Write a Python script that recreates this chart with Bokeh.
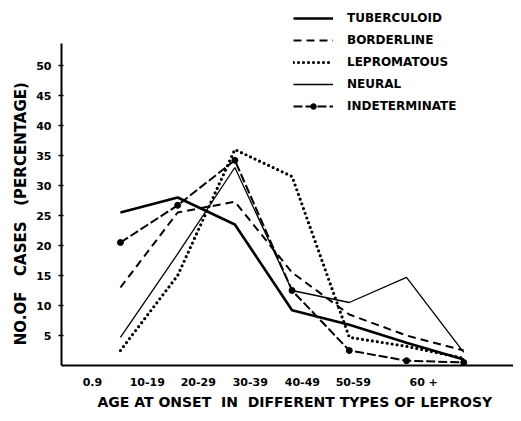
import numpy as np
from bokeh.plotting import figure
from bokeh.models import Legend, LegendItem, FixedTicker, Range1d
from bokeh.embed import file_html
from bokeh.resources import INLINE

# ---- data ----
age_groups = ["0.9", "10-19", "20-29", "30-39", "40-49", "50-59", "60 +"]
tick_positions = [-0.49, 0.47, 1.36, 2.27, 3.18, 4.07, 5.30]
group_index = [0, 1, 2, 3, 4, 5, 6]
tuberculoid = [25.5, 28.0, 23.5, 9.2, 6.8, 3.8, 1.0]
borderline = [13.0, 25.5, 27.3, 15.5, 8.5, 5.0, 2.5]
lepromatous = [2.5, 15.0, 36.0, 31.5, 4.7, 3.2, 1.2]
neural = [4.7, 18.6, 33.0, 12.5, 10.5, 14.7, 2.2]
indeterminate = [20.5, 26.7, 34.2, 12.5, 2.5, 0.8, 0.5]
y_ticks = [5, 10, 15, 20, 25, 30, 35, 40, 45, 50]

FONT = "DejaVu Sans"
NB = "\u00a0"

p = figure(width=513, height=413, output_backend="svg", toolbar_location=None,
           x_range=Range1d(-1.03, 6.87), y_range=Range1d(0, 60.17),
           min_border_left=61, min_border_right=0, min_border_top=4,
           min_border_bottom=48)
p.outline_line_color = None
p.xgrid.grid_line_color = None
p.ygrid.grid_line_color = None
p.background_fill_color = "white"

# y axis
p.yaxis.bounds = (0, 53.67)
p.yaxis.ticker = FixedTicker(ticks=y_ticks)
p.yaxis.axis_line_width = 2
p.yaxis.major_tick_in = 2
p.yaxis.major_tick_out = 3
p.yaxis.major_tick_line_width = 1.5
p.yaxis.minor_tick_line_color = None
p.yaxis.major_label_text_font = FONT
p.yaxis.major_label_text_font_style = "bold"
p.yaxis.major_label_text_font_size = "11px"
p.yaxis.major_label_text_color = "black"
p.yaxis.major_label_standoff = 7
p.yaxis.axis_label = "NO.OF" + NB * 3 + "CASES" + NB * 3 + "(PERCENTAGE)" + NB * 11
p.yaxis.axis_label_text_font = FONT
p.yaxis.axis_label_text_font_style = "bold"
p.yaxis.axis_label_text_font_size = "15px"
p.yaxis.axis_label_text_color = "black"
p.yaxis.axis_label_standoff = 3

# x axis
p.xaxis.ticker = FixedTicker(ticks=tick_positions)
p.xaxis.major_label_overrides = {t: lab for t, lab in zip(tick_positions, age_groups)}
p.xaxis.axis_line_width = 2
p.xaxis.major_tick_in = 0
p.xaxis.major_tick_out = 0
p.xaxis.minor_tick_line_color = None
p.xaxis.major_label_text_font = FONT
p.xaxis.major_label_text_font_style = "bold"
p.xaxis.major_label_text_font_size = "11px"
p.xaxis.major_label_text_color = "black"
p.xaxis.major_label_standoff = 10
p.xaxis.axis_label = (NB * 3 + "AGE AT ONSET" + NB * 2 + "IN" + NB * 2 +
                      "DIFFERENT TYPES OF LEPROSY")
p.xaxis.axis_label_text_font = FONT
p.xaxis.axis_label_text_font_style = "bold"
p.xaxis.axis_label_text_font_size = "14px"
p.xaxis.axis_label_text_color = "black"
p.xaxis.axis_label_standoff = 2

r_tub = p.line(group_index, tuberculoid, line_color="black", line_width=2.6)
r_bor = p.line(group_index, borderline, line_color="black", line_width=2,
               line_dash="8 5")
r_lep = p.line(group_index, lepromatous, line_color="black", line_width=3.2,
               line_dash="0 5", line_cap="round")
r_neu = p.line(group_index, neural, line_color="black", line_width=1.3)
r_ind = p.line(group_index, indeterminate, line_color="black", line_width=2,
               line_dash="9 3")
r_ind_m = p.scatter(group_index, indeterminate, marker="circle", size=6,
                    fill_color="black", line_color="black")

legend = Legend(items=[
    LegendItem(label="TUBERCULOID", renderers=[r_tub]),
    LegendItem(label="BORDERLINE", renderers=[r_bor]),
    LegendItem(label="LEPROMATOUS", renderers=[r_lep]),
    LegendItem(label="NEURAL", renderers=[r_neu]),
    LegendItem(label="INDETERMINATE", renderers=[r_ind, r_ind_m]),
], location=(232, 252))
legend.border_line_color = None
legend.background_fill_alpha = 0
legend.padding = 0
legend.margin = 0
legend.spacing = 8
legend.glyph_width = 40
legend.glyph_height = 14
legend.label_height = 14
legend.label_standoff = 14
legend.label_text_font = FONT
legend.label_text_font_style = "bold"
legend.label_text_font_size = "12px"
legend.label_text_color = "black"
p.add_layout(legend)

open("out.html", "w").write(file_html(p, INLINE))
